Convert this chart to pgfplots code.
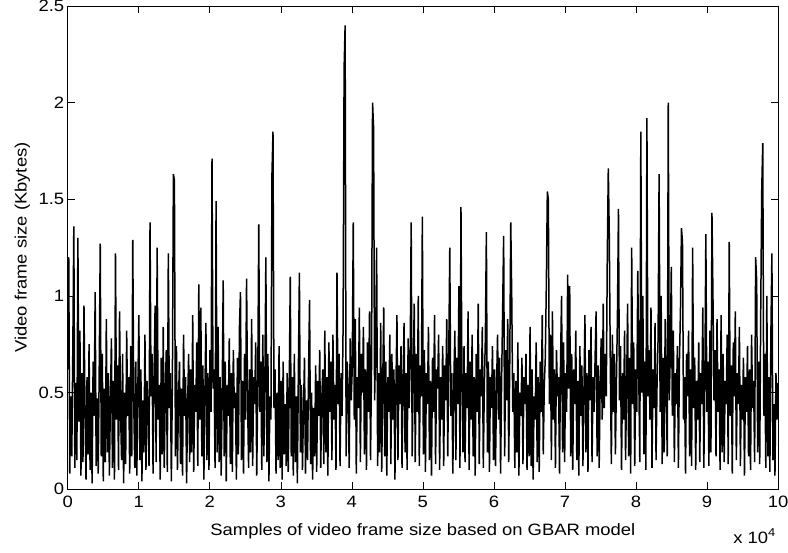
\documentclass[border=0pt]{standalone}
\usepackage{fontspec}
\setmainfont{Liberation Sans}[FakeStretch=1.12]
\usepackage{pgfplots}
\usepackage{pgfplotstable}
\pgfplotsset{compat=1.18}

% frame sizes, one sample per row (x = index/69.9, in units of 10^4)
\pgfplotstableread[row sep=\\]{
y\\
0.62\\ 1.20\\ 0.08\\ 0.48\\ 0.17\\ 0.72\\ 1.36\\ 0.11\\ 0.55\\ 0.15\\
1.30\\ 0.35\\ 0.82\\ 0.07\\ 0.60\\ 0.14\\ 0.95\\ 0.40\\ 0.05\\ 0.58\\
0.18\\ 0.75\\ 0.10\\ 0.50\\ 0.03\\ 0.66\\ 0.38\\ 1.02\\ 0.12\\ 0.47\\
0.08\\ 0.62\\ 1.27\\ 0.17\\ 0.70\\ 0.04\\ 0.52\\ 0.14\\ 0.88\\ 0.19\\
0.60\\ 0.07\\ 0.45\\ 0.78\\ 0.11\\ 0.56\\ 0.05\\ 1.22\\ 0.36\\ 0.64\\
0.10\\ 0.92\\ 0.40\\ 0.15\\ 0.70\\ 0.03\\ 0.50\\ 0.13\\ 0.82\\ 0.38\\
0.58\\ 0.08\\ 0.74\\ 0.17\\ 1.29\\ 0.44\\ 0.11\\ 0.66\\ 0.07\\ 0.52\\
0.90\\ 0.15\\ 0.62\\ 0.04\\ 0.46\\ 0.19\\ 0.80\\ 0.10\\ 0.56\\ 0.40\\
0.12\\ 1.38\\ 0.48\\ 0.70\\ 0.08\\ 0.60\\ 0.95\\ 0.14\\ 1.25\\ 0.36\\
0.54\\ 0.05\\ 0.68\\ 0.18\\ 0.84\\ 0.11\\ 0.50\\ 0.72\\ 0.09\\ 1.22\\
0.42\\ 0.60\\ 0.04\\ 0.55\\ 1.63\\ 1.60\\ 0.17\\ 0.74\\ 0.10\\ 0.46\\
0.66\\ 0.13\\ 0.52\\ 0.07\\ 0.80\\ 0.38\\ 0.58\\ 0.03\\ 0.44\\ 0.70\\
0.14\\ 0.62\\ 0.19\\ 0.90\\ 0.09\\ 0.54\\ 0.40\\ 0.76\\ 0.12\\ 1.06\\
0.36\\ 0.94\\ 0.17\\ 0.64\\ 0.05\\ 0.50\\ 0.86\\ 0.15\\ 0.60\\ 0.10\\
0.72\\ 0.40\\ 1.71\\ 0.52\\ 0.62\\ 0.11\\ 1.49\\ 0.19\\ 0.84\\ 0.14\\
0.58\\ 0.07\\ 0.48\\ 1.08\\ 0.17\\ 0.66\\ 0.04\\ 0.54\\ 0.38\\ 0.78\\
0.13\\ 0.60\\ 0.09\\ 0.72\\ 0.42\\ 0.50\\ 0.05\\ 0.68\\ 0.18\\ 0.84\\
1.02\\ 0.15\\ 0.56\\ 0.08\\ 0.70\\ 0.36\\ 1.09\\ 0.46\\ 0.11\\ 0.62\\
0.19\\ 0.88\\ 0.12\\ 0.58\\ 0.44\\ 0.76\\ 0.07\\ 0.52\\ 1.37\\ 0.40\\
0.66\\ 0.10\\ 0.80\\ 0.17\\ 0.54\\ 1.20\\ 0.14\\ 0.70\\ 0.04\\ 0.48\\
0.36\\ 1.63\\ 1.85\\ 0.42\\ 0.62\\ 0.08\\ 0.50\\ 0.15\\ 0.74\\ 0.11\\
0.56\\ 0.05\\ 0.66\\ 0.18\\ 0.44\\ 0.12\\ 0.60\\ 0.09\\ 0.52\\ 1.10\\
0.17\\ 0.58\\ 0.07\\ 0.70\\ 0.14\\ 0.48\\ 0.03\\ 0.62\\ 1.12\\ 0.19\\
0.54\\ 0.10\\ 0.40\\ 0.68\\ 0.08\\ 0.46\\ 0.15\\ 0.60\\ 0.98\\ 0.13\\
0.50\\ 0.05\\ 0.42\\ 0.17\\ 0.64\\ 0.09\\ 0.56\\ 0.38\\ 0.72\\ 0.11\\
0.46\\ 0.62\\ 0.13\\ 0.82\\ 0.19\\ 0.58\\ 0.07\\ 0.76\\ 0.40\\ 0.66\\
0.15\\ 0.80\\ 0.36\\ 0.54\\ 0.10\\ 1.12\\ 0.44\\ 0.70\\ 0.12\\ 0.60\\
0.38\\ 0.84\\ 2.18\\ 2.40\\ 0.17\\ 0.66\\ 0.52\\ 0.11\\ 0.78\\ 0.46\\
0.62\\ 1.38\\ 0.36\\ 0.88\\ 0.08\\ 0.58\\ 0.42\\ 0.94\\ 0.14\\ 0.70\\
0.50\\ 0.84\\ 0.18\\ 0.62\\ 0.10\\ 0.76\\ 0.40\\ 0.92\\ 0.15\\ 0.64\\
2.00\\ 1.87\\ 0.46\\ 0.72\\ 1.25\\ 0.12\\ 0.60\\ 0.19\\ 0.86\\ 0.09\\
0.54\\ 0.94\\ 0.17\\ 0.66\\ 0.07\\ 0.58\\ 0.40\\ 0.80\\ 0.13\\ 0.70\\
0.36\\ 0.62\\ 0.05\\ 0.52\\ 0.90\\ 0.15\\ 0.64\\ 0.44\\ 0.74\\ 0.11\\
0.56\\ 0.86\\ 0.19\\ 0.60\\ 0.10\\ 0.78\\ 0.42\\ 0.66\\ 1.38\\ 0.17\\
0.58\\ 0.96\\ 0.14\\ 0.70\\ 0.40\\ 1.00\\ 0.12\\ 0.64\\ 0.48\\ 1.41\\
0.18\\ 0.72\\ 0.09\\ 0.60\\ 0.44\\ 0.84\\ 0.15\\ 0.56\\ 0.07\\ 0.68\\
0.40\\ 0.90\\ 0.13\\ 0.62\\ 0.52\\ 0.80\\ 0.10\\ 0.58\\ 0.36\\ 0.74\\
0.12\\ 0.64\\ 0.46\\ 0.88\\ 0.17\\ 0.70\\ 1.25\\ 0.38\\ 0.60\\ 0.08\\
0.56\\ 0.82\\ 0.15\\ 0.68\\ 0.44\\ 1.05\\ 0.11\\ 1.46\\ 0.52\\ 0.19\\
0.74\\ 0.14\\ 0.60\\ 0.42\\ 0.92\\ 0.10\\ 0.66\\ 0.36\\ 0.80\\ 0.17\\
0.58\\ 0.07\\ 0.70\\ 0.40\\ 0.96\\ 0.13\\ 0.62\\ 0.48\\ 0.84\\ 0.11\\
0.54\\ 0.78\\ 1.33\\ 0.19\\ 0.66\\ 0.09\\ 0.58\\ 0.42\\ 0.74\\ 0.15\\
0.62\\ 0.12\\ 0.52\\ 0.80\\ 0.36\\ 0.68\\ 0.08\\ 0.56\\ 0.92\\ 1.31\\
0.17\\ 0.72\\ 0.46\\ 0.88\\ 0.14\\ 0.64\\ 1.38\\ 0.98\\ 0.40\\ 0.60\\
0.11\\ 0.56\\ 0.19\\ 0.76\\ 0.07\\ 0.50\\ 0.38\\ 0.68\\ 0.13\\ 0.58\\
0.44\\ 0.70\\ 0.10\\ 0.54\\ 0.17\\ 0.84\\ 0.12\\ 0.62\\ 0.05\\ 0.48\\
0.36\\ 0.76\\ 0.14\\ 0.58\\ 0.09\\ 0.66\\ 0.40\\ 0.90\\ 0.18\\ 0.54\\
0.68\\ 1.05\\ 1.54\\ 1.50\\ 0.44\\ 0.80\\ 0.15\\ 0.92\\ 0.36\\ 0.62\\
0.11\\ 0.72\\ 0.48\\ 0.58\\ 0.08\\ 0.66\\ 1.00\\ 0.19\\ 0.76\\ 0.14\\
0.60\\ 0.40\\ 1.11\\ 0.52\\ 1.05\\ 0.17\\ 0.70\\ 0.10\\ 0.62\\ 0.44\\
0.82\\ 0.15\\ 0.56\\ 0.07\\ 0.74\\ 0.38\\ 0.64\\ 0.12\\ 0.50\\ 0.90\\
0.19\\ 0.60\\ 0.09\\ 0.72\\ 0.46\\ 0.84\\ 0.14\\ 0.58\\ 0.40\\ 0.68\\
0.92\\ 0.17\\ 0.64\\ 0.11\\ 0.54\\ 0.78\\ 0.36\\ 0.96\\ 0.42\\ 0.70\\
0.48\\ 1.20\\ 1.66\\ 1.30\\ 0.62\\ 0.13\\ 0.80\\ 0.40\\ 0.70\\ 0.18\\
0.56\\ 0.90\\ 1.45\\ 0.46\\ 0.74\\ 0.10\\ 0.60\\ 0.36\\ 0.82\\ 0.15\\
0.52\\ 0.96\\ 0.17\\ 0.68\\ 0.08\\ 1.25\\ 0.44\\ 0.76\\ 0.12\\ 0.62\\
0.40\\ 1.13\\ 0.58\\ 0.14\\ 1.85\\ 0.50\\ 1.00\\ 0.18\\ 0.66\\ 0.10\\
1.92\\ 0.48\\ 0.72\\ 0.36\\ 0.94\\ 0.11\\ 0.62\\ 0.42\\ 0.86\\ 0.15\\
0.56\\ 0.78\\ 1.63\\ 0.40\\ 1.00\\ 0.13\\ 0.68\\ 0.19\\ 0.88\\ 0.52\\
0.17\\ 2.00\\ 0.46\\ 0.70\\ 1.15\\ 0.38\\ 0.82\\ 0.14\\ 0.60\\ 0.44\\
0.74\\ 0.11\\ 0.66\\ 0.92\\ 1.35\\ 1.28\\ 0.36\\ 0.58\\ 0.08\\ 0.70\\
0.48\\ 0.82\\ 0.17\\ 0.62\\ 0.12\\ 1.25\\ 0.42\\ 0.68\\ 0.10\\ 0.56\\
0.36\\ 0.76\\ 0.14\\ 0.60\\ 0.44\\ 0.94\\ 0.11\\ 0.54\\ 1.32\\ 0.40\\
0.66\\ 0.12\\ 0.82\\ 0.19\\ 1.43\\ 1.00\\ 0.46\\ 0.72\\ 0.17\\ 0.88\\
0.40\\ 0.62\\ 0.10\\ 0.90\\ 0.19\\ 0.70\\ 0.14\\ 0.56\\ 0.44\\ 0.80\\
0.13\\ 1.28\\ 0.38\\ 0.64\\ 0.08\\ 0.76\\ 0.48\\ 0.92\\ 0.15\\ 0.60\\
0.44\\ 0.84\\ 0.12\\ 0.54\\ 0.36\\ 0.68\\ 0.07\\ 0.58\\ 0.40\\ 0.74\\
0.17\\ 0.62\\ 0.10\\ 0.80\\ 0.42\\ 0.56\\ 0.14\\ 1.20\\ 1.08\\ 0.19\\
0.66\\ 0.13\\ 0.92\\ 1.55\\ 1.79\\ 0.38\\ 0.70\\ 0.11\\ 1.00\\ 0.17\\
0.58\\ 0.09\\ 0.80\\ 1.22\\ 0.15\\ 0.44\\ 0.07\\ 0.60\\ 0.36\\ 0.55\\
}\framesizes

\begin{document}
\begin{tikzpicture}[font=\fontsize{16.5}{19}\selectfont]
	\begin{axis}[
			scale only axis,
			width=710bp, height=483bp,
			xmin=0, xmax=10, ymin=0, ymax=2.5,
			xtick={0,1,2,3,4,5,6,7,8,9,10},
			ytick={0,0.5,1,1.5,2,2.5},
			tick align=inside,
			major tick length=7bp,
			axis line style={line width=0.8bp},
			every tick/.style={black, line width=0.6bp},
			/pgf/number format/assume math mode=true,
			tick label style={font=\fontsize{16.5}{19}\selectfont},
			xticklabel style={yshift=-3bp},
			xlabel={Samples of video frame size based on GBAR model},
			ylabel={Video frame size (Kbytes)},
			every axis x label/.style={at={(axis description cs:0.5,0)}, anchor=base,
				yshift=-46bp, font=\fontsize{16.5}{19}\selectfont},
			every axis y label/.style={at={(axis description cs:0,0.5)}, rotate=90, anchor=base,
				yshift=41bp, font=\fontsize{16.5}{19}\selectfont},
		]
		\addplot[black, line width=1.5bp] table[x expr=\coordindex/69.9, y=y] {\framesizes};
	\end{axis}
	\node[anchor=base east, inner sep=0pt] at ([xshift=-2bp, yshift=-54bp]current axis.south east)
		{x 10\textsuperscript{4}};
	\pgfresetboundingbox
	\path[use as bounding box] ([shift={(-67.7bp,-63bp)}]current axis.south west)
		rectangle ([shift={(10bp,6bp)}]current axis.north east);
\end{tikzpicture}
\end{document}
